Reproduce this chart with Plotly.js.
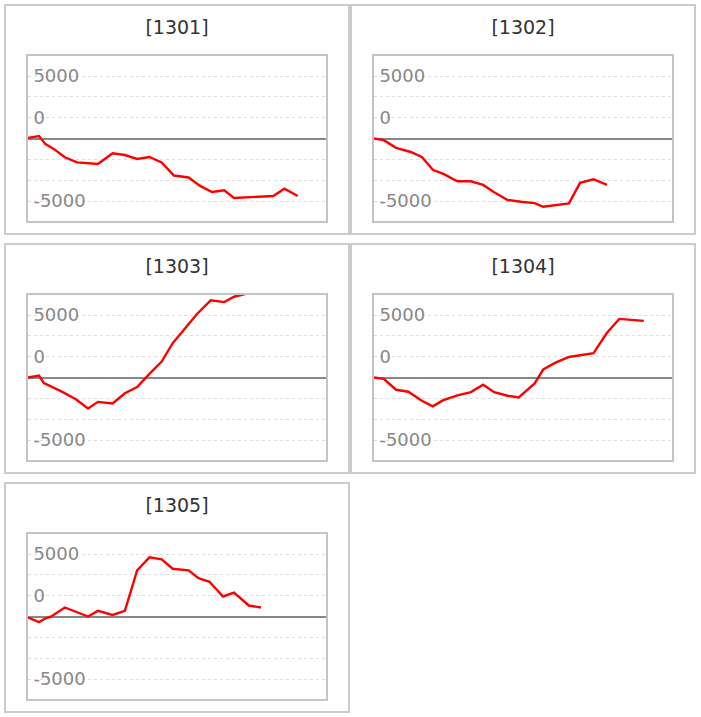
<!DOCTYPE html>
<html>
<head>
<meta charset="utf-8">
<script src="https://cdn.plot.ly/plotly-3.0.1.min.js"></script>
<style>
    body { margin: 0; padding: 4px 0 0 4px; background: #fff; }
    #charts { display: grid; grid-template-columns: 346px 346px; row-gap: 8px; }
    .panel { box-sizing: border-box; width: 346px; height: 231px; border: 2px solid #cccccc; }
    .chart { width: 342px; height: 227px; }
</style>
</head>
<body>
<div id="charts"></div>
<script>
// Codes shown in the panel titles
var codes = ["1301", "1302", "1303", "1304", "1305"];

// Cumulative result per period
var x1301 = [0, 0.9, 1.4, 2.1, 3.0, 4.0, 5.7, 6.9, 7.9, 8.9, 9.9, 10.9, 11.9, 13.1, 14.0, 15.0, 16.0, 16.8, 20.0, 20.9, 22.0];
var y1301 = [50, 190, -430, -830, -1500, -1910, -2040, -1180, -1320, -1640, -1480, -1910, -2960, -3120, -3770, -4280, -4140, -4760, -4600, -4010, -4600];

var x1302 = [0, 0.8, 1.8, 3.0, 3.9, 4.8, 5.7, 6.8, 7.9, 8.9, 9.8, 10.9, 12.0, 13.1, 13.8, 14.8, 15.9, 16.8, 17.9, 19.0];
var y1302 = [0, -130, -750, -1080, -1480, -2500, -2850, -3420, -3420, -3710, -4300, -4920, -5060, -5170, -5460, -5330, -5190, -3550, -3260, -3710];

var x1303 = [0, 0.9, 1.3, 1.8, 2.8, 3.9, 4.9, 5.7, 6.9, 7.9, 8.9, 9.9, 10.9, 11.8, 12.8, 13.8, 14.9, 16.0, 16.8, 17.8, 18.9];
var y1303 = [0, 160, -450, -670, -1150, -1740, -2480, -1950, -2080, -1260, -770, 290, 1280, 2750, 3900, 5100, 6170, 6030, 6460, 6700, 7100];

var x1304 = [0, 0.8, 1.8, 2.8, 3.9, 4.8, 5.6, 6.8, 7.9, 8.9, 9.8, 10.9, 11.8, 13.1, 13.8, 14.8, 15.9, 16.9, 17.9, 19.0, 20.0, 22.0];
var y1304 = [0, -110, -980, -1140, -1860, -2310, -1830, -1430, -1170, -580, -1170, -1460, -1590, -480, 640, 1190, 1640, 1780, 1940, 3580, 4690, 4530];

var x1305 = [0, 0.9, 1.4, 1.9, 3.0, 3.9, 4.9, 5.7, 6.9, 7.9, 8.9, 9.9, 10.9, 11.8, 13.1, 13.9, 14.8, 15.9, 16.8, 18.0, 19.0];
var y1305 = [-80, -450, -160, 0, 720, 350, 0, 450, 130, 450, 3690, 4730, 4570, 3820, 3690, 3070, 2780, 1600, 1920, 880, 720];

var xSeries = [x1301, x1302, x1303, x1304, x1305];
var ySeries = [y1301, y1302, y1303, y1304, y1305];

// Y axis: labelled levels (the "0" label sits on the first grid line above zero)
var labelVals = [5000, 1666.7, -5000];
var labelText = ["5000", "0", "-5000"];
var gridVals = [3333.3, -1666.7, -3333.3];

var FONT = "DejaVu Sans, Verdana, sans-serif";

function drawChart(div, code, xs, ys) {
    var trace = {
        type: "scatter",
        mode: "lines",
        x: xs,
        y: ys,
        line: { color: "#ff0000", width: 2.4 },
        hoverinfo: "skip"
    };

    var layout = {
        width: 342,
        height: 227,
        margin: { l: 22, r: 22, t: 50, b: 12 },
        paper_bgcolor: "#ffffff",
        plot_bgcolor: "#ffffff",
        showlegend: false,
        font: { family: FONT },
        title: {
            text: "[" + code + "]",
            font: { family: FONT, size: 19, color: "#333333" },
            x: 0.5,
            xref: "container",
            xanchor: "center",
            y: 1 - 21 / 227,
            yref: "container",
            yanchor: "middle"
        },
        xaxis: {
            range: [0, 24.3],
            showticklabels: false,
            showgrid: false,
            zeroline: false,
            ticks: "",
            showline: true,
            mirror: true,
            linecolor: "#c4c4c4",
            linewidth: 2,
            fixedrange: true
        },
        yaxis: {
            range: [-6600, 6600],
            tickmode: "array",
            tickvals: labelVals,
            ticktext: labelText,
            ticklabelposition: "inside",
            ticklabelstandoff: 6,
            ticks: "",
            tickfont: { family: FONT, size: 18, color: "#888888" },
            showgrid: true,
            gridcolor: "#dddddd",
            gridwidth: 1,
            griddash: "dot",
            minor: {
                tickmode: "array",
                tickvals: gridVals,
                showgrid: true,
                gridcolor: "#dddddd",
                gridwidth: 1,
                griddash: "dot",
                ticks: ""
            },
            zeroline: true,
            zerolinecolor: "#888888",
            zerolinewidth: 2,
            showline: true,
            mirror: true,
            linecolor: "#c4c4c4",
            linewidth: 2,
            fixedrange: true
        }
    };

    Plotly.newPlot(div, [trace], layout, { staticPlot: true, displayModeBar: false });
}

var container = document.getElementById("charts");
codes.forEach(function (code, index) {
    var panel = document.createElement("div");
    panel.classList.add("panel");
    var chart = document.createElement("div");
    chart.classList.add("chart");
    chart.id = "chart-" + code;
    panel.appendChild(chart);
    container.appendChild(panel);
    drawChart(chart, code, xSeries[index], ySeries[index]);
});
</script>
</body>
</html>
